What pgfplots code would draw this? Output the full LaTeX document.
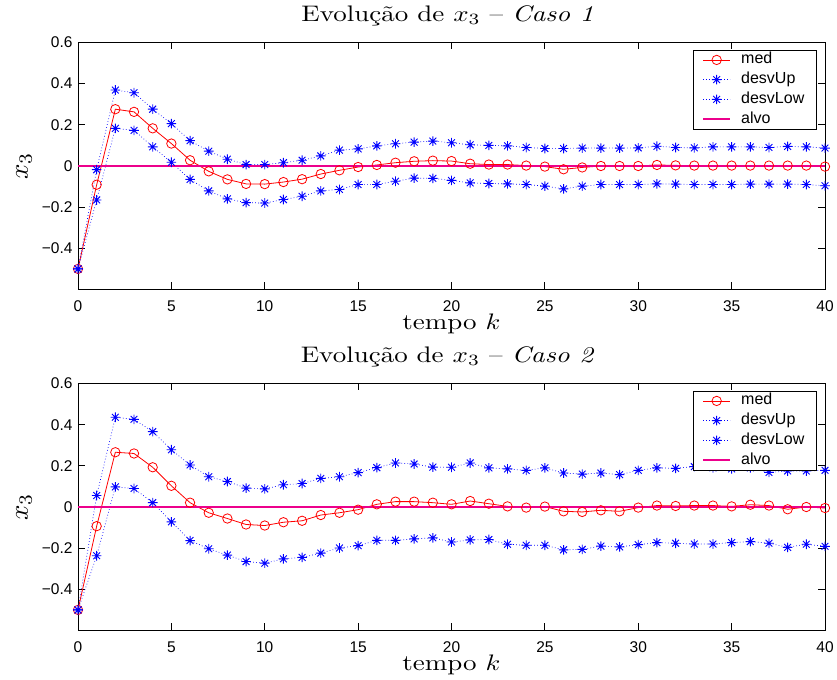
\documentclass[border=0pt]{standalone}
\usepackage{fontspec}
\usepackage{graphicx}
\usepackage{pgfplots}
\usepackage{pgfplotstable}
\pgfplotsset{compat=1.18}
\newfontfamily\sansf{Liberation Sans}

\pgfdeclareplotmark{mstar}{%
  \pgfpathmoveto{\pgfqpoint{-\pgfplotmarksize}{0pt}}\pgfpathlineto{\pgfqpoint{\pgfplotmarksize}{0pt}}%
  \pgfpathmoveto{\pgfqpoint{0pt}{-\pgfplotmarksize}}\pgfpathlineto{\pgfqpoint{0pt}{\pgfplotmarksize}}%
  \pgfpathmoveto{\pgfqpoint{-0.707\pgfplotmarksize}{-0.707\pgfplotmarksize}}\pgfpathlineto{\pgfqpoint{0.707\pgfplotmarksize}{0.707\pgfplotmarksize}}%
  \pgfpathmoveto{\pgfqpoint{-0.707\pgfplotmarksize}{0.707\pgfplotmarksize}}\pgfpathlineto{\pgfqpoint{0.707\pgfplotmarksize}{-0.707\pgfplotmarksize}}%
  \pgfusepathqstroke}

\pgfplotstableread{
k med up low
0 -0.500 -0.500 -0.500
1 -0.091 -0.018 -0.165
2 0.276 0.369 0.183
3 0.263 0.356 0.173
4 0.183 0.276 0.093
5 0.109 0.206 0.018
6 0.028 0.123 -0.065
7 -0.026 0.072 -0.121
8 -0.065 0.033 -0.160
9 -0.087 0.007 -0.178
10 -0.088 0.007 -0.180
11 -0.078 0.016 -0.163
12 -0.064 0.028 -0.147
13 -0.039 0.049 -0.121
14 -0.021 0.077 -0.114
15 -0.005 0.083 -0.090
16 0.005 0.098 -0.090
17 0.016 0.108 -0.074
18 0.023 0.116 -0.059
19 0.026 0.121 -0.060
20 0.024 0.113 -0.070
21 0.011 0.103 -0.082
22 0.007 0.100 -0.085
23 0.007 0.098 -0.087
24 0.002 0.090 -0.090
25 -0.003 0.085 -0.098
26 -0.016 0.085 -0.111
27 -0.007 0.087 -0.098
28 0.000 0.087 -0.090
29 0.000 0.087 -0.090
30 0.000 0.088 -0.090
31 0.005 0.096 -0.087
32 0.003 0.090 -0.088
33 0.002 0.088 -0.090
34 0.002 0.093 -0.090
35 0.002 0.093 -0.090
36 0.002 0.093 -0.088
37 0.002 0.090 -0.088
38 0.002 0.095 -0.088
39 0.002 0.093 -0.090
40 -0.003 0.087 -0.096
}\casoone

\pgfplotstableread{
k med up low
0 -0.500 -0.500 -0.500
1 -0.093 0.056 -0.237
2 0.266 0.436 0.098
3 0.260 0.426 0.090
4 0.193 0.366 0.021
5 0.103 0.278 -0.072
6 0.021 0.204 -0.163
7 -0.028 0.147 -0.203
8 -0.056 0.124 -0.234
9 -0.085 0.092 -0.265
10 -0.090 0.088 -0.273
11 -0.074 0.108 -0.252
12 -0.067 0.114 -0.245
13 -0.039 0.139 -0.224
14 -0.028 0.147 -0.199
15 -0.013 0.167 -0.188
16 0.013 0.191 -0.162
17 0.026 0.214 -0.162
18 0.026 0.209 -0.155
19 0.021 0.194 -0.150
20 0.013 0.193 -0.170
21 0.029 0.214 -0.160
22 0.016 0.190 -0.158
23 0.003 0.185 -0.181
24 -0.003 0.178 -0.186
25 0.002 0.190 -0.186
26 -0.021 0.165 -0.208
27 -0.024 0.160 -0.206
28 -0.016 0.165 -0.190
29 -0.021 0.157 -0.194
30 -0.003 0.178 -0.183
31 0.007 0.190 -0.173
32 0.005 0.188 -0.176
33 0.007 0.196 -0.180
34 0.007 0.190 -0.180
35 0.003 0.185 -0.173
36 0.011 0.190 -0.168
37 0.007 0.168 -0.176
38 -0.011 0.175 -0.196
39 0.000 0.175 -0.181
40 -0.005 0.178 -0.191
}\casotwo

\pgfplotsset{
  legend image code/.code={\draw[mark repeat=2,mark phase=2,#1] plot coordinates {(0bp,0bp) (13.5bp,0bp) (27bp,0bp)};},
  myaxis/.style={
    scale only axis, width=747bp, height=247bp,
    xmin=0, xmax=40, ymin=-0.6, ymax=0.6,
    xtick={0,5,...,40}, xticklabels={0,5,10,15,20,25,30,35,40},
    ytick={-0.4,-0.2,0,0.2,0.4,0.6}, yticklabels={−0.4,−0.2,0,0.2,0.4,0.6},
    tick align=inside, major tick length=7bp,
    tick style={black, line width=0.8bp},
    axis line style={line width=1bp},
    ticklabel style={font=\sansf\fontsize{15.5bp}{18bp}\selectfont},
    xticklabel style={anchor=north, inner sep=0pt, yshift=-11bp},
    yticklabel style={anchor=east, inner sep=0pt, xshift=-5.3bp},
    title style={at={(axis description cs:0.5,1)}, anchor=base, yshift=15bp, xshift=-4bp, inner sep=0pt, font=\fontsize{10bp}{12bp}\selectfont},
    xlabel style={at={(axis description cs:0.5,0)}, anchor=base, yshift=-40bp, inner sep=0pt, font=\fontsize{10bp}{12bp}\selectfont},
    ylabel style={at={(axis description cs:-0.0723,0.5)}, anchor=center, inner sep=0pt, font=\fontsize{10bp}{12bp}\selectfont},
    xlabel={\scalebox{2.7}[2.25]{tempo $k$}},
    ylabel={\scalebox{2.7}{$x_3$}},
    legend style={at={(axis description cs:0.989,0.9715)}, anchor=north east, draw=black, line width=0.9bp, fill=white,
      inner xsep=9bp, inner ysep=2.45bp, column sep=7bp, row sep=4.7bp,
      font=\sansf\fontsize{16bp}{19bp}\selectfont,
      nodes={inner ysep=0pt, inner xsep=3bp, text height=11.5bp, text depth=3.5bp}},
    legend cell align=left,
  },
  medstyle/.style={red, line width=0.8bp, mark=o, mark size=4.7bp, mark options={solid, line width=0.8bp}},
  devstyle/.style={blue, line width=0.7bp, dash pattern=on 0.7bp off 2.3bp, mark=mstar, mark size=4.8bp, mark options={solid, line width=0.9bp}},
  alvostyle/.style={magenta, line width=2bp},
}

\begin{document}
\begin{tikzpicture}
\begin{axis}[myaxis, at={(78bp,390.5bp)}, anchor=south west,
  title={\scalebox{2.7}[2.25]{Evolução de $x_3$ – \textit{Caso 1}}}]
\addplot[medstyle] table[x=k,y=med] {\casoone};
\addlegendentry{med}
\addplot[devstyle] table[x=k,y=up] {\casoone};
\addlegendentry{desvUp}
\addplot[devstyle] table[x=k,y=low] {\casoone};
\addlegendentry{desvLow}
\addplot[alvostyle] coordinates {(0,0) (40,0)};
\addlegendentry{alvo}
\end{axis}
\begin{axis}[myaxis, at={(78bp,49.5bp)}, anchor=south west,
  title={\scalebox{2.7}[2.25]{Evolução de $x_3$ – \textit{Caso 2}}}]
\addplot[medstyle] table[x=k,y=med] {\casotwo};
\addlegendentry{med}
\addplot[devstyle] table[x=k,y=up] {\casotwo};
\addlegendentry{desvUp}
\addplot[devstyle] table[x=k,y=low] {\casotwo};
\addlegendentry{desvLow}
\addplot[alvostyle] coordinates {(0,0) (40,0)};
\addlegendentry{alvo}
\end{axis}
\pgfresetboundingbox
\path[use as bounding box] (0,0) rectangle (837bp,680bp);
\end{tikzpicture}
\end{document}
